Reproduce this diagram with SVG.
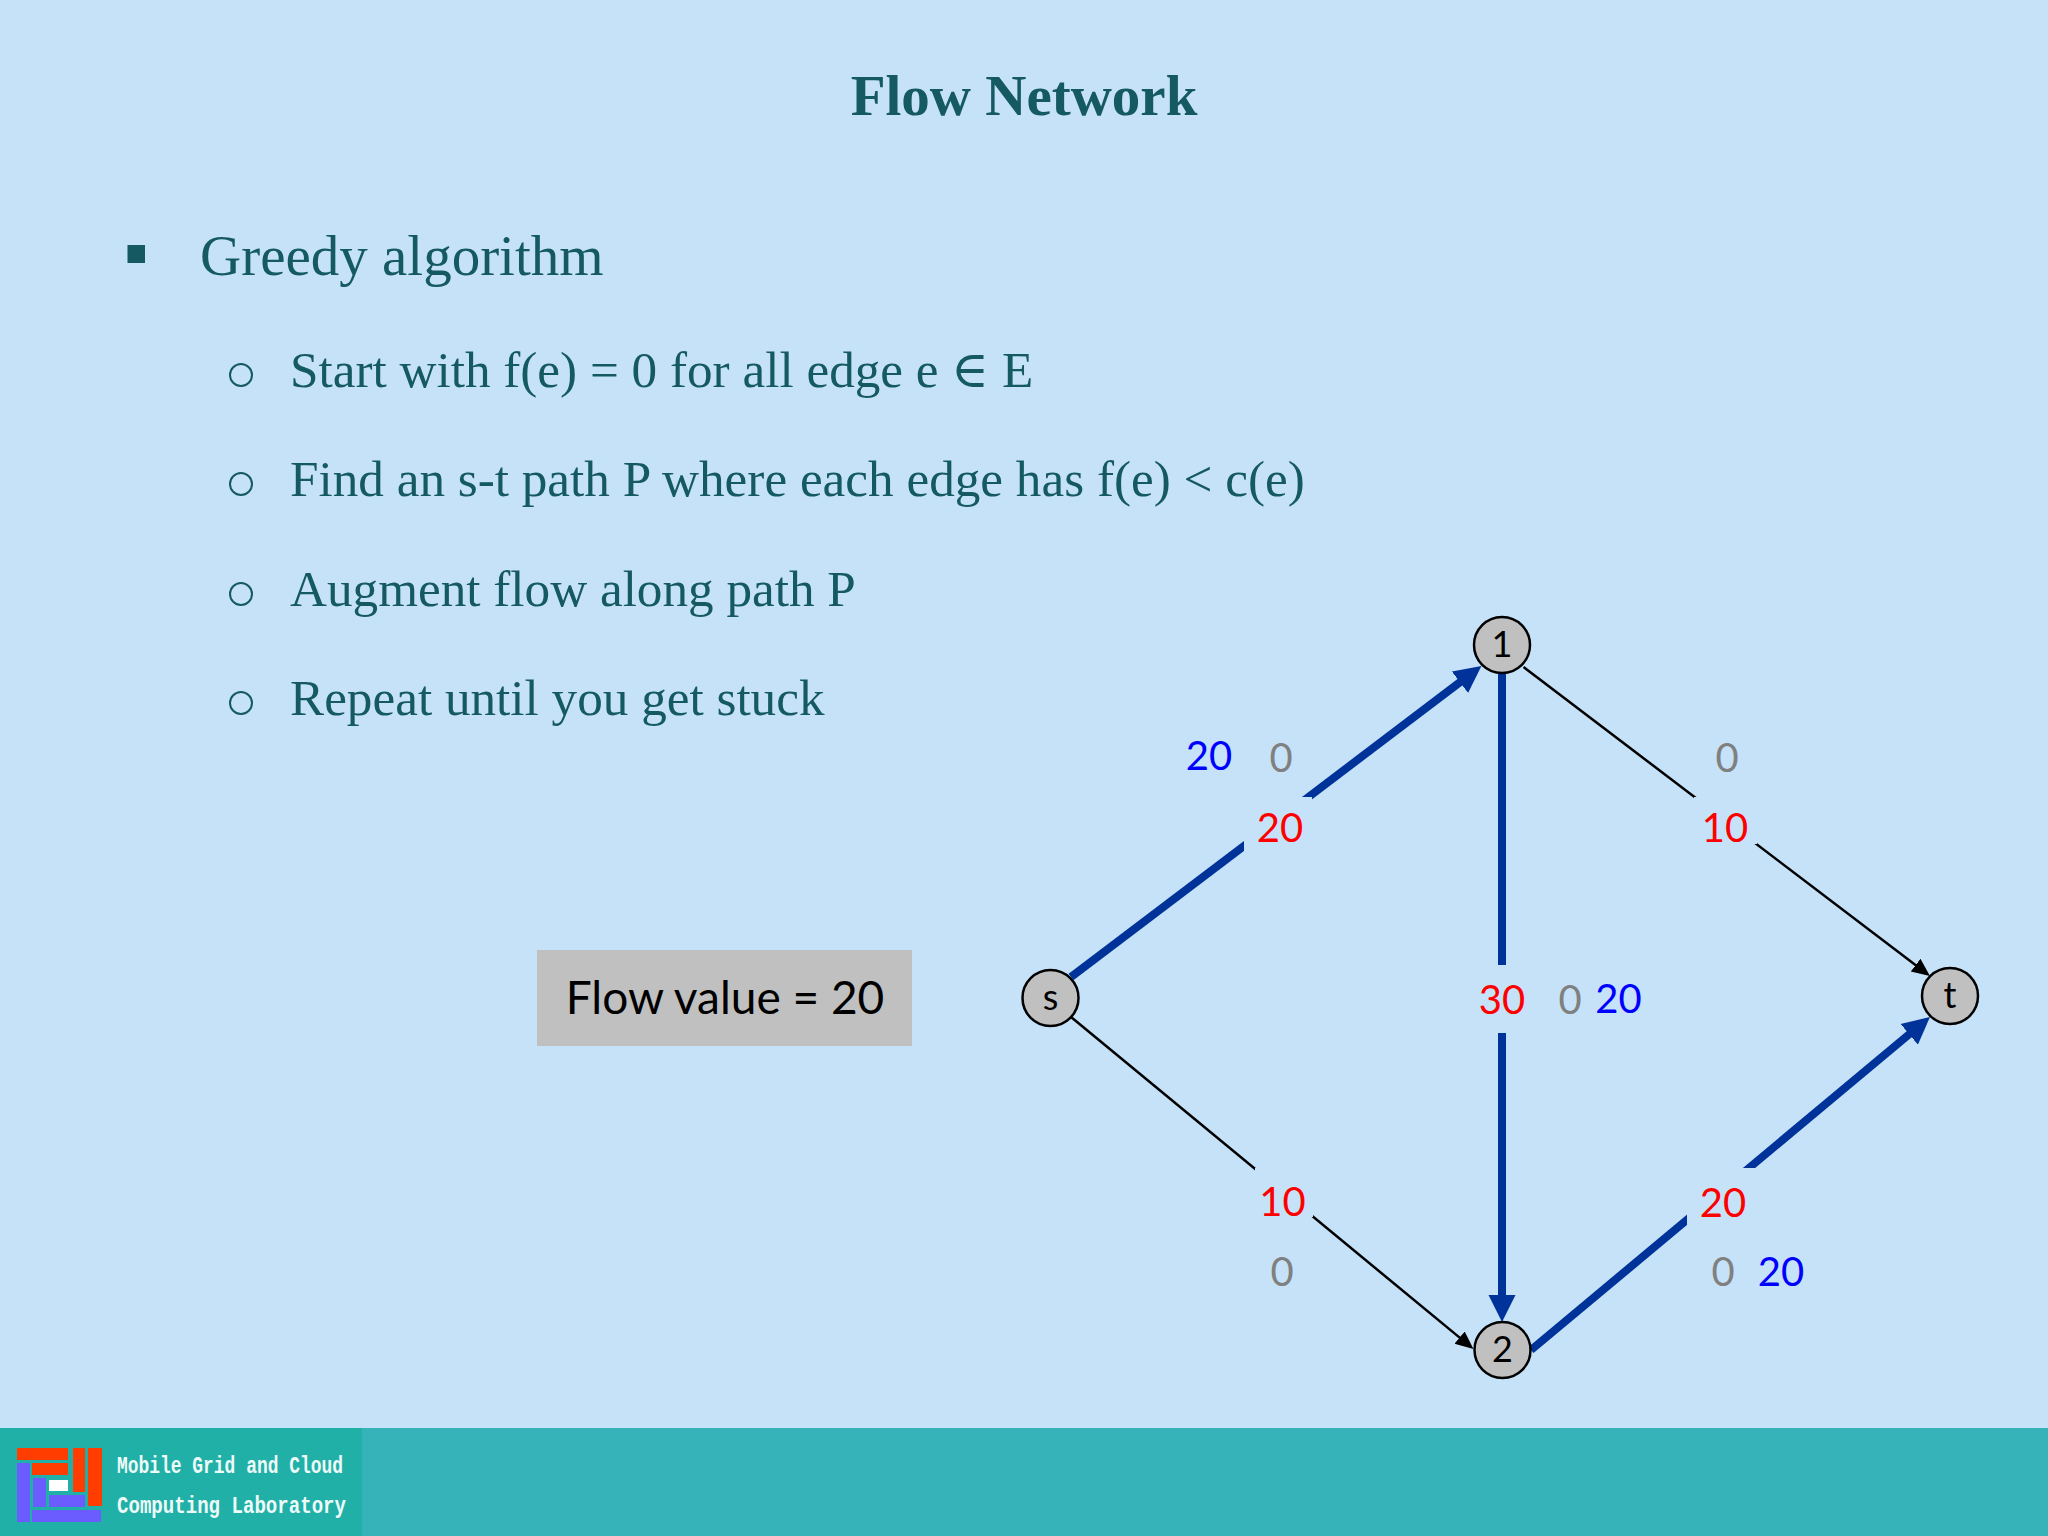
<svg xmlns="http://www.w3.org/2000/svg" width="2048" height="1536" viewBox="0 0 2048 1536">
<style>
.serif{font-family:"Liberation Serif","DejaVu Serif",serif;fill:#155a63}
.h1{font-size:57px}
.h2{font-size:51.2px}
.c{font-family:Lato,"Noto Sans",sans-serif;font-size:40px;text-anchor:middle}
.r{fill:#ff0000}.b{fill:#0000ff}.g{fill:#808080}
.n{fill:#c0c0c0;stroke:#000;stroke-width:2.5}
.nt{font-family:Lato,"Noto Sans",sans-serif;font-size:36px;text-anchor:middle;fill:#000}
.thick{stroke:#003399;stroke-width:8;fill:none;marker-end:url(#ah)}
.thin{stroke:#000;stroke-width:2.5;fill:none;marker-end:url(#at)}
.mask{fill:#c5e2f9}
.bul{fill:none;stroke:#155a63;stroke-width:2}
.ft{font-family:"Liberation Mono","DejaVu Sans Mono",monospace;font-size:23px;font-weight:bold;fill:#eefbf8}
.o{fill:#ff3d00}.p{fill:#6a5cff}
</style>
<defs>
<marker id="ah" markerUnits="userSpaceOnUse" markerWidth="32" markerHeight="30" refX="7" refY="14" orient="auto"><path d="M0,0.5 L27,14 L0,27.5 z" fill="#003399"/></marker>
<marker id="at" markerUnits="userSpaceOnUse" markerWidth="24" markerHeight="20" refX="6" refY="9" orient="auto"><path d="M0,1 L18,9 L0,17 z" fill="#000"/></marker>
</defs>
<rect width="2048" height="1536" fill="#c5e2f9"/>
<g id="footer">
<rect x="0" y="1428" width="2048" height="108" fill="#36b3b8"/>
<rect x="0" y="1428" width="362" height="108" fill="#21b0a8"/>
<rect class="o" x="17" y="1448" width="51" height="12"/>
<rect class="o" x="32" y="1463" width="36" height="12"/>
<rect class="o" x="73" y="1448" width="12" height="44"/>
<rect class="o" x="88" y="1448" width="14" height="58"/>
<rect class="p" x="17" y="1463" width="13" height="59"/>
<rect class="p" x="32" y="1510" width="69" height="12"/>
<rect class="p" x="33" y="1478" width="13" height="29"/>
<rect class="p" x="49" y="1495" width="36" height="12"/>
<rect x="49" y="1480" width="19" height="11" fill="#fff"/>
<text class="ft" x="117" y="1473" textLength="226" lengthAdjust="spacingAndGlyphs">Mobile Grid and Cloud</text>
<text class="ft" x="117" y="1513" textLength="229" lengthAdjust="spacingAndGlyphs">Computing Laboratory</text>
</g>
<g id="slide-text">
<text class="serif" x="1024" y="115" font-size="57" font-weight="bold" text-anchor="middle">Flow Network</text>
<rect x="127.500" y="245" width="17.500" height="18" fill="#155a63"/>
<text class="serif h1" x="200" y="275">Greedy algorithm</text>
<ellipse class="bul" cx="241" cy="375" rx="11" ry="11"/>
<text class="serif h2" x="290" y="387">Start with f(e) = 0 for all edge e ∈ E</text>
<ellipse class="bul" cx="241" cy="484" rx="11" ry="11"/>
<text class="serif h2" x="290" y="496">Find an s-t path P where each edge has f(e) &lt; c(e)</text>
<ellipse class="bul" cx="241" cy="594" rx="11" ry="11"/>
<text class="serif h2" x="290" y="606">Augment flow along path P</text>
<ellipse class="bul" cx="241" cy="703" rx="11" ry="11"/>
<text class="serif h2" x="290" y="715">Repeat until you get stuck</text>
</g>
<g id="flow-value">
<rect x="537" y="950" width="375" height="96" fill="#c0c0c0"/>
<text x="725" y="1014" font-family="Lato,'Noto Sans',sans-serif" font-size="46" text-anchor="middle" fill="#000">Flow value = 20</text>
</g>
<g id="connectors">
<line class="thick" x1="1071" y1="977" x2="1465.500" y2="678"/>
<line class="thin" x1="1523.500" y1="667" x2="1920.400" y2="968.700"/>
<line class="thin" x1="1071" y1="1017" x2="1464.200" y2="1341.400"/>
<line class="thick" x1="1502" y1="674" x2="1502" y2="1302"/>
<line class="thick" x1="1531" y1="1350" x2="1914.600" y2="1029.800"/>
<rect class="mask" x="1244" y="797" width="68" height="60"/>
<rect class="mask" x="1694" y="797" width="63" height="47"/>
<rect class="mask" x="1255" y="1168" width="58" height="49"/>
<rect class="mask" x="1470" y="965" width="64" height="68"/>
<rect class="mask" x="1687" y="1168" width="70" height="65"/>
</g>
<g id="labels">
<text class="c b" x="1209" y="770">20</text>
<text class="c g" x="1281" y="772">0</text>
<text class="c r" x="1280" y="842">20</text>
<text class="c r" x="1502" y="1014">30</text>
<text class="c g" x="1570" y="1014">0</text>
<text class="c b" x="1618.500" y="1013">20</text>
<text class="c g" x="1727" y="772">0</text>
<text class="c r" x="1725" y="842">10</text>
<text class="c r" x="1282.500" y="1216">10</text>
<text class="c g" x="1282" y="1286">0</text>
<text class="c r" x="1723" y="1217">20</text>
<text class="c g" x="1723" y="1286">0</text>
<text class="c b" x="1781" y="1286">20</text>
</g>
<g id="node-s"><circle class="n" cx="1050.500" cy="998" r="28"/><text class="nt" x="1050.500" y="1010">s</text></g>
<g id="node-1"><circle class="n" cx="1502" cy="645" r="28"/><text class="nt" x="1502" y="657">1</text></g>
<g id="node-2"><circle class="n" cx="1502.500" cy="1350" r="28"/><text class="nt" x="1502.500" y="1362">2</text></g>
<g id="node-t"><circle class="n" cx="1950" cy="996" r="28"/><text class="nt" x="1950" y="1008">t</text></g>
</svg>
